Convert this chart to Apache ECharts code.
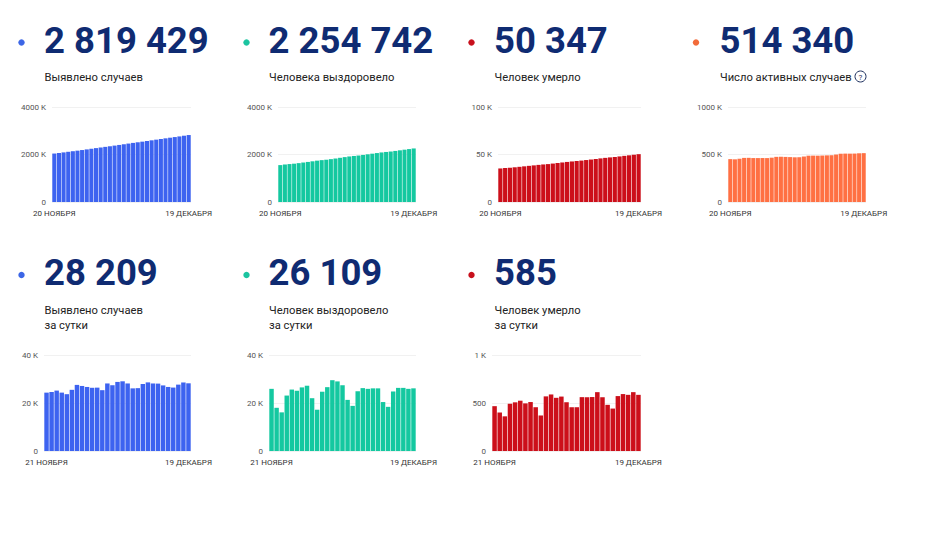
<!DOCTYPE html>
<html>
<head>
<meta charset="utf-8">
<script src="https://cdn.jsdelivr.net/npm/echarts@6/dist/echarts.min.js"></script>
<style>
  html, body { margin: 0; padding: 0; background: #fff; }
  #main { width: 926px; height: 533px; }
</style>
</head>
<body>
<div id="main"></div>
<script>
// dates
var dates = ['20 НОЯБРЯ', '21 НОЯБРЯ', '22 НОЯБРЯ', '23 НОЯБРЯ', '24 НОЯБРЯ', '25 НОЯБРЯ', '26 НОЯБРЯ', '27 НОЯБРЯ',
    '28 НОЯБРЯ', '29 НОЯБРЯ', '30 НОЯБРЯ', '1 ДЕКАБРЯ', '2 ДЕКАБРЯ', '3 ДЕКАБРЯ', '4 ДЕКАБРЯ', '5 ДЕКАБРЯ',
    '6 ДЕКАБРЯ', '7 ДЕКАБРЯ', '8 ДЕКАБРЯ', '9 ДЕКАБРЯ', '10 ДЕКАБРЯ', '11 ДЕКАБРЯ', '12 ДЕКАБРЯ', '13 ДЕКАБРЯ',
    '14 ДЕКАБРЯ', '15 ДЕКАБРЯ', '16 ДЕКАБРЯ', '17 ДЕКАБРЯ', '18 ДЕКАБРЯ', '19 ДЕКАБРЯ'];
var datesDaily = dates.slice(1);

// cumulative totals
var casesTotal = [2039926, 2064244, 2088825, 2113998, 2138324, 2161999, 2187486, 2215029, 2242129, 2268812,
    2295150, 2321552, 2346897, 2375042, 2402445, 2431227, 2460266, 2488408, 2514505, 2540695,
    2568622, 2597207, 2625344, 2653424, 2680752, 2707441, 2733872, 2761528, 2791200, 2819429];
var recoveredTotal = [1553300, 1579200, 1597200, 1613300, 1636400, 1662000, 1687100, 1713600, 1740800, 1762800,
    1780000, 1804700, 1831300, 1860800, 1889800, 1917200, 1938500, 1957300, 1982200, 2008400,
    2034300, 2060400, 2086500, 2106900, 2125300, 2150100, 2176400, 2202700, 2228600, 2254742];
var deathsTotal = [35311, 35778, 36179, 36540, 37031, 37538, 38062, 38558, 39068, 39527,
    39895, 40464, 41053, 41607, 42176, 42684, 43141, 43597, 44159, 44718,
    45280, 45893, 46453, 46941, 47391, 47968, 48564, 49151, 49762, 50347];
var activeTotal = [451300, 449200, 455400, 464200, 464900, 462500, 462300, 462800, 462200, 466500,
    475200, 476300, 474500, 472600, 470400, 471300, 478700, 487500, 488100, 487600,
    489000, 490900, 492300, 499600, 508100, 509300, 508900, 509700, 512800, 514340];

// per day
var casesDaily = [24318, 24581, 25173, 24326, 23675, 25487, 27543, 27100, 26683, 26338,
    26402, 25345, 28145, 27403, 28782, 29039, 28142, 26097, 26190, 27927,
    28585, 28137, 28080, 27328, 26689, 26431, 27656, 28552, 28209];
var recoveredDaily = [25900, 18000, 16100, 23100, 25600, 25100, 26500, 27200, 22000, 17200,
    24700, 26600, 29500, 29000, 27400, 21300, 18800, 24900, 26200, 25900,
    26100, 26100, 20400, 18400, 24800, 26300, 26300, 25900, 26109];
var deathsDaily = [467, 401, 361, 491, 507, 524, 496, 510, 456, 370,
    569, 589, 554, 567, 508, 456, 456, 561, 560, 562,
    613, 560, 481, 442, 572, 593, 585, 613, 585];

var bigNumbers = ['2 819 429', '2 254 742', '50 347', '514 340', '28 209', '26 109', '585'];
var captions = ['Выявлено случаев', 'Человека выздоровело', 'Человек умерло', 'Число активных случаев',
    'Выявлено случаев\nза сутки', 'Человек выздоровело\nза сутки', 'Человек умерло\nза сутки'];
var axisMax = [4000000, 4000000, 100000, 1000000, 40000, 40000, 1000];

var blue = '#3d63f0', teal = '#14c8a0', red = '#cc0f1a', orange = '#ff7043';
var dotColors = ['#3c66e6', '#1bc4a0', '#c8101c', '#f26b3a', '#3c66e6', '#1bc4a0', '#c8101c'];

var panels = [
    { data: casesTotal, cats: dates, color: blue },
    { data: recoveredTotal, cats: dates, color: teal },
    { data: deathsTotal, cats: dates, color: red },
    { data: activeTotal, cats: dates, color: orange },
    { data: casesDaily, cats: datesDaily, color: blue },
    { data: recoveredDaily, cats: datesDaily, color: teal },
    { data: deathsDaily, cats: datesDaily, color: red }
];

// layout
var place = [
    { dotX: 21.5, textX: 44, row: 0, left: 52, right: 191 },
    { dotX: 246.5, textX: 268.5, row: 0, left: 278, right: 416 },
    { dotX: 471.5, textX: 494, row: 0, left: 498, right: 641 },
    { dotX: 696, textX: 719.5, row: 0, left: 728, right: 866 },
    { dotX: 21.5, textX: 44, row: 1, left: 44, right: 191 },
    { dotX: 246.5, textX: 268.5, row: 1, left: 269, right: 416 },
    { dotX: 471.5, textX: 494, row: 1, left: 492, right: 641 }
];
var rows = [
    { dotY: 42.5, numY: 40, capY: 69.5, top: 107, bottom: 202 },
    { dotY: 275, numY: 272, capY: 302.5, top: 355, bottom: 451 }
];

function kFormat(v) {
    if (v === 0) return '0';
    if (v >= 1000) return (v / 1000) + ' K';
    return '' + v;
}

var grids = [], xAxes = [], yAxes = [], series = [], graphics = [];

panels.forEach(function (p, i) {
    var pl = place[i], r = rows[pl.row];
    var last = p.cats.length - 1;
    grids.push({ left: pl.left, top: r.top, width: pl.right - pl.left, height: r.bottom - r.top });
    xAxes.push({
        type: 'category',
        gridIndex: i,
        data: p.cats,
        axisLine: { show: false },
        axisTick: { show: false },
        axisLabel: {
            interval: function (idx) { return idx === 0 || idx === last; },
            fontSize: 8,
            fontFamily: 'Roboto',
            color: '#333',
            margin: 7
        }
    });
    yAxes.push({
        type: 'value',
        gridIndex: i,
        min: 0,
        max: axisMax[i],
        interval: axisMax[i] / 2,
        axisLine: { show: false },
        axisTick: { show: false },
        splitLine: { lineStyle: { color: '#f1f1f1', width: 1 } },
        axisLabel: {
            formatter: kFormat,
            fontSize: 8,
            fontFamily: 'Roboto',
            color: '#555',
            margin: 6
        }
    });
    series.push({
        type: 'bar',
        xAxisIndex: i,
        yAxisIndex: i,
        data: p.data,
        barCategoryGap: '12%',
        itemStyle: { color: p.color },
        silent: true
    });

    graphics.push({
        type: 'circle',
        shape: { cx: pl.dotX, cy: r.dotY, r: 3.2 },
        style: { fill: dotColors[i] }
    });
    graphics.push({
        type: 'text',
        x: pl.textX,
        y: r.numY,
        style: {
            text: bigNumbers[i],
            fontFamily: 'Roboto',
            fontWeight: 'bold',
            fontSize: 36.5,
            fill: '#0f2b72',
            textVerticalAlign: 'middle'
        }
    });
    graphics.push({
        type: 'text',
        x: pl.textX + 0.5,
        y: r.capY,
        style: {
            text: captions[i],
            fontFamily: 'Roboto',
            fontSize: 11.2,
            lineHeight: 15.5,
            fill: '#222',
            textVerticalAlign: 'top'
        }
    });
});

// question mark icon next to "active cases"
graphics.push({
    type: 'circle',
    shape: { cx: 860.5, cy: 76.5, r: 5.5 },
    style: { fill: 'none', stroke: '#1d2f5e', lineWidth: 1 }
});
graphics.push({
    type: 'text',
    x: 860.5,
    y: 77,
    style: {
        text: '?',
        fontFamily: 'Roboto',
        fontSize: 8,
        fill: '#1d2f5e',
        textAlign: 'center',
        textVerticalAlign: 'middle'
    }
});

var chart = echarts.init(document.getElementById('main'), null, { renderer: 'svg' });
chart.setOption({
    animation: false,
    grid: grids,
    xAxis: xAxes,
    yAxis: yAxes,
    series: series,
    graphic: graphics
});
</script>
</body>
</html>
